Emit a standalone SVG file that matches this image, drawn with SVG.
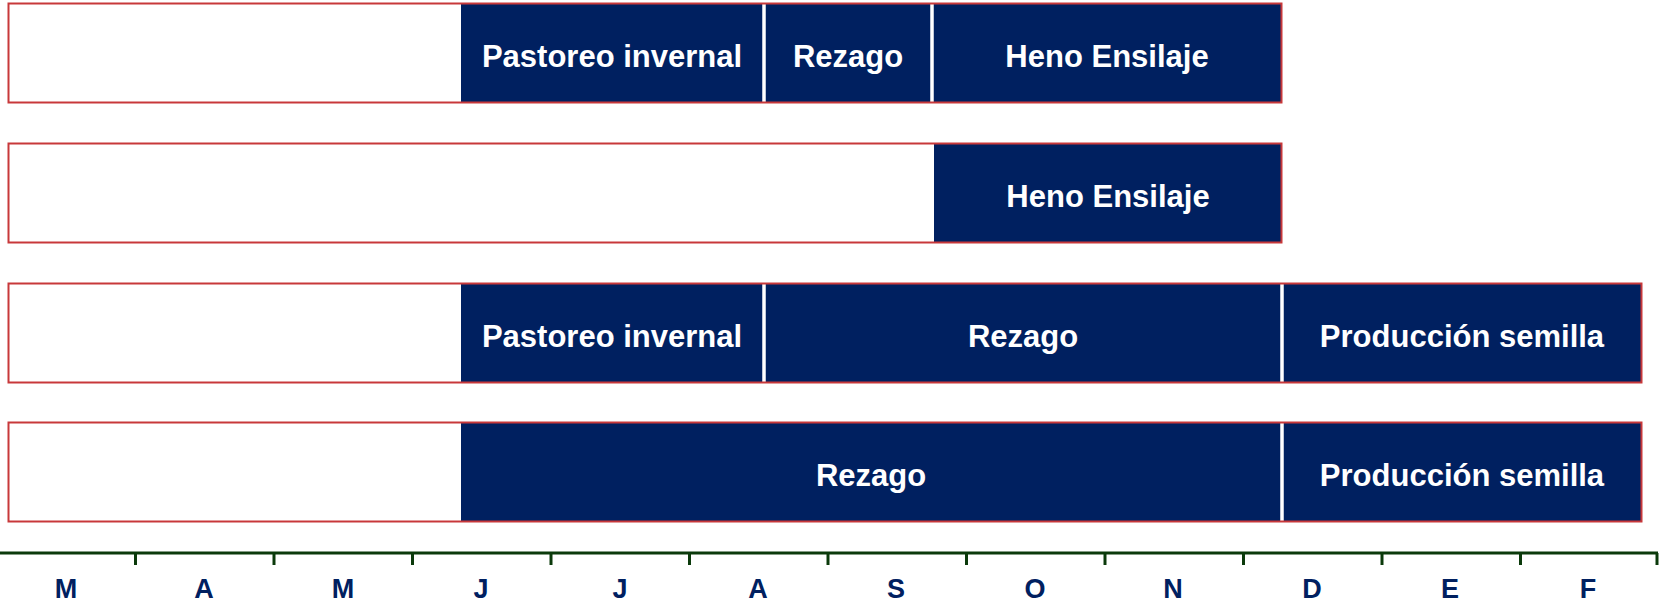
<svg xmlns="http://www.w3.org/2000/svg" width="1660" height="605" viewBox="0 0 1660 605">
<style>
.frame{fill:none;stroke:#C8383A;stroke-width:2}
.bg{fill:#ffffff}
.seg{fill:#002060}
.div{stroke:#ffffff;stroke-width:3.5}
.lbl{font-family:"Liberation Sans",Arial,sans-serif;font-weight:bold;font-size:31px;fill:#ffffff;text-anchor:middle}
.mon{font-family:"Liberation Sans",Arial,sans-serif;font-weight:bold;font-size:27px;fill:#002060;text-anchor:middle}
.axis{stroke:#0B3A0B;stroke-width:3;fill:none}
.tick{stroke:#0B3A0B;stroke-width:3}
</style>
<rect width="1660" height="605" fill="#ffffff"/>
<g id="row1">
<rect class="bg" x="8.5" y="3.5" width="1273" height="99"/>
<rect class="seg" x="461" y="3.5" width="820.5" height="99"/>
<line class="div" x1="764" y1="4" x2="764" y2="102"/>
<line class="div" x1="932" y1="4" x2="932" y2="102"/>
<rect class="frame" x="8.5" y="3.5" width="1273" height="99"/>
<text class="lbl" x="612" y="67">Pastoreo invernal</text>
<text class="lbl" x="848" y="67">Rezago</text>
<text class="lbl" x="1107" y="67">Heno Ensilaje</text>
</g>
<g id="row2">
<rect class="bg" x="8.5" y="143.5" width="1273" height="99"/>
<rect class="seg" x="934" y="143.5" width="347.5" height="99"/>
<rect class="frame" x="8.5" y="143.5" width="1273" height="99"/>
<text class="lbl" x="1108" y="207">Heno Ensilaje</text>
</g>
<g id="row3">
<rect class="bg" x="8.5" y="283.5" width="1633" height="99"/>
<rect class="seg" x="461" y="283.5" width="1180.5" height="99"/>
<line class="div" x1="764" y1="284" x2="764" y2="382"/>
<line class="div" x1="1282" y1="284" x2="1282" y2="382"/>
<rect class="frame" x="8.5" y="283.5" width="1633" height="99"/>
<text class="lbl" x="612" y="347">Pastoreo invernal</text>
<text class="lbl" x="1023" y="347">Rezago</text>
<text class="lbl" x="1462" y="347">Producción semilla</text>
</g>
<g id="row4">
<rect class="bg" x="8.5" y="422.5" width="1633" height="99"/>
<rect class="seg" x="461" y="422.5" width="1180.5" height="99"/>
<line class="div" x1="1282" y1="423" x2="1282" y2="521"/>
<rect class="frame" x="8.5" y="422.5" width="1633" height="99"/>
<text class="lbl" x="871" y="486">Rezago</text>
<text class="lbl" x="1462" y="486">Producción semilla</text>
</g>
<g id="axis">
<line class="axis" x1="0" y1="553" x2="1658" y2="553"/>
<line class="tick" x1="135.5" y1="553" x2="135.5" y2="565"/>
<line class="tick" x1="274" y1="553" x2="274" y2="565"/>
<line class="tick" x1="412.5" y1="553" x2="412.5" y2="565"/>
<line class="tick" x1="551" y1="553" x2="551" y2="565"/>
<line class="tick" x1="689.5" y1="553" x2="689.5" y2="565"/>
<line class="tick" x1="828" y1="553" x2="828" y2="565"/>
<line class="tick" x1="966.5" y1="553" x2="966.5" y2="565"/>
<line class="tick" x1="1105" y1="553" x2="1105" y2="565"/>
<line class="tick" x1="1243.5" y1="553" x2="1243.5" y2="565"/>
<line class="tick" x1="1382" y1="553" x2="1382" y2="565"/>
<line class="tick" x1="1520.5" y1="553" x2="1520.5" y2="565"/>
<line class="tick" x1="1657" y1="553" x2="1657" y2="565"/>
<text class="mon" x="66" y="598">M</text>
<text class="mon" x="204" y="598">A</text>
<text class="mon" x="343" y="598">M</text>
<text class="mon" x="481" y="598">J</text>
<text class="mon" x="620" y="598">J</text>
<text class="mon" x="758" y="598">A</text>
<text class="mon" x="896" y="598">S</text>
<text class="mon" x="1035" y="598">O</text>
<text class="mon" x="1173" y="598">N</text>
<text class="mon" x="1312" y="598">D</text>
<text class="mon" x="1450" y="598">E</text>
<text class="mon" x="1588" y="598">F</text>
</g>
</svg>
